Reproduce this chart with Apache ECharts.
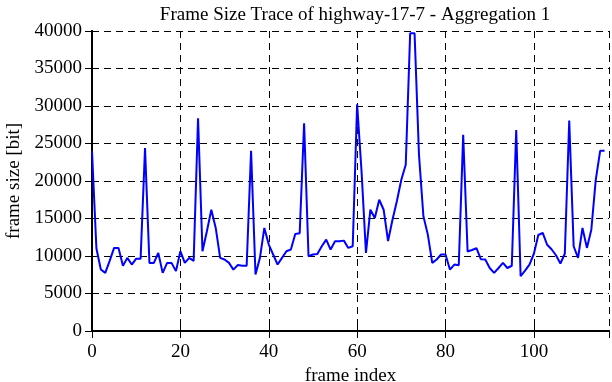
<!DOCTYPE html>
<html>
<head>
<meta charset="utf-8">
<script src="https://cdn.jsdelivr.net/npm/echarts@6/dist/echarts.min.js"></script>
<style>
html,body{margin:0;padding:0;background:#fff;}
#chart{width:612px;height:382px;}
</style>
</head>
<body>
<div id="chart"></div>
<script>
const titleText = 'Frame Size Trace of highway-17-7 - Aggregation 1';
const xAxisName = 'frame index';
const yAxisName = 'frame size [bit]';
const frameSizes = [
  24000, 11000, 8200, 7750, 9350, 11080, 11080, 8700, 9750, 8860,
  9650, 9650, 24400, 9080, 9080, 10400, 7750, 9080, 9080, 7980,
  10640, 9080, 9750, 9350, 28370, 10640, 13300, 16170, 13740, 9750,
  9530, 9080, 8190, 8800, 8700, 8700, 24020, 7530, 9750, 13740,
  11520, 10200, 8860, 9750, 10640, 10860, 12940, 13030, 27700, 9970,
  10200, 10280, 11300, 12180, 10860, 11970, 11970, 12050, 11080, 11300,
  30230, 21280, 10410, 16170, 15070, 17500, 16170, 12000, 14840, 17330,
  20160, 22160, 39700, 39700, 23490, 15300, 12850, 9080, 9530, 10200,
  10200, 8190, 8860, 8780, 26150, 10600, 10800, 11040, 9580, 9530,
  8400, 7750, 8400, 9080, 8400, 8700, 26800, 7300, 8040, 8860,
  10300, 12800, 13070, 11500, 10900, 10100, 9000, 10300, 28050, 11300,
  9750, 13740, 11080, 13510, 20160, 24020, 24020
];
const xMin = 0, xMax = 117, xStep = 20;
const yMin = 0, yMax = 40000, yStep = 5000;

const seriesData = frameSizes.map((v, i) => [i, v]);
const font = 'Liberation Serif';
const dash = [7, 5];

const chart = echarts.init(document.getElementById('chart'), null, {renderer: 'canvas'});
const axisLineStyle = {show: true, lineStyle: {color: '#000', width: 2}};
const tickStyle = {show: true, inside: true, length: 7, lineStyle: {color: '#000', width: 1}};
chart.setOption({
  animation: false,
  backgroundColor: '#fff',
  title: {
    text: titleText, left: 350, top: 1, textAlign: 'center',
    textStyle: {fontFamily: font, fontSize: 19, fontWeight: 'normal', color: '#000'}
  },
  grid: {left: 92, right: 3, top: 31, bottom: 51, containLabel: false, outerBoundsMode: 'none'},
  xAxis: [{
    type: 'value', min: xMin, max: xMax, interval: xStep, position: 'bottom',
    name: xAxisName, nameLocation: 'middle', nameGap: 33,
    nameTextStyle: {fontFamily: font, fontSize: 19, color: '#000'},
    axisLine: axisLineStyle, axisTick: tickStyle,
    axisLabel: {fontFamily: font, fontSize: 19, color: '#000', margin: 12, showMaxLabel: false,
      formatter: v => (v % xStep === 0 ? String(v) : '')},
    splitLine: {show: true, lineStyle: {color: '#000', width: 1, type: dash}}
  }, {
    type: 'value', min: xMin, max: xMax, interval: xStep, position: 'top',
    axisLine: axisLineStyle, axisTick: tickStyle, axisLabel: {show: false}, splitLine: {show: false}
  }],
  yAxis: [{
    type: 'value', min: yMin, max: yMax, interval: yStep, position: 'left',
    name: yAxisName, nameLocation: 'middle', nameGap: 67, nameRotate: 90,
    nameTextStyle: {fontFamily: font, fontSize: 19, color: '#000'},
    axisLine: axisLineStyle, axisTick: tickStyle,
    axisLabel: {fontFamily: font, fontSize: 19, color: '#000', margin: 10, formatter: v => String(v)},
    splitLine: {show: true, lineStyle: {color: '#000', width: 1, type: dash}}
  }, {
    type: 'value', min: yMin, max: yMax, interval: yStep, position: 'right',
    axisLine: axisLineStyle, axisTick: tickStyle, axisLabel: {show: false}, splitLine: {show: false}
  }],
  series: [{
    type: 'line', data: seriesData, xAxisIndex: 0, yAxisIndex: 0,
    showSymbol: false, symbol: 'none',
    lineStyle: {color: '#0000ff', width: 2},
    itemStyle: {color: '#0000ff'}
  }]
});
</script>
</body>
</html>
